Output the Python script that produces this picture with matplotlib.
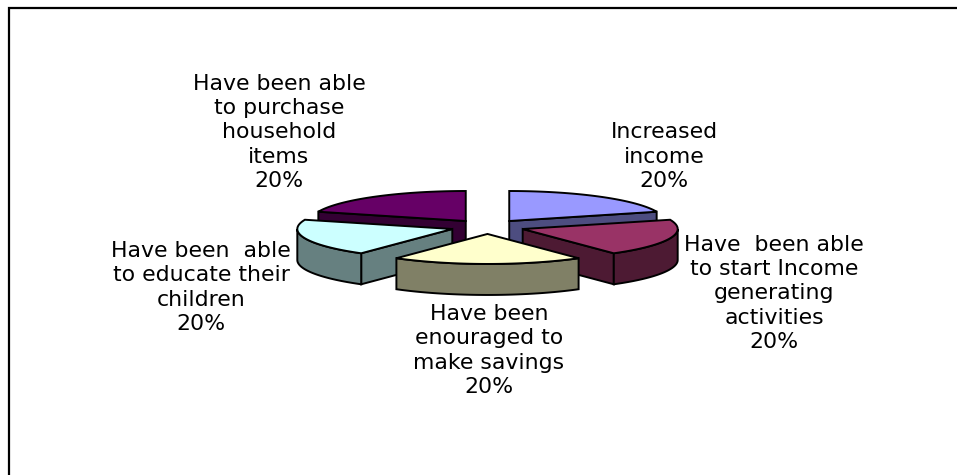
import numpy as np
import matplotlib
matplotlib.use('Agg')
import matplotlib.pyplot as plt
from matplotlib.patches import Polygon

plt.rcParams['font.family'] = ['DejaVu Sans']

# one entry per slice, clockwise from 12 o'clock
labels = [
    'Increased\nincome',
    'Have  been able\nto start Income\ngenerating\nactivities',
    'Have been\nenouraged to\nmake savings',
    'Have been  able\nto educate their\nchildren',
    'Have been able\nto purchase\nhousehold\nitems',
]
values = [20, 20, 20, 20, 20]
top_colors = ['#9999FF', '#993366', '#FFFFCC', '#CCFFFF', '#660066']
side_colors = ['#4D4D80', '#4D1A33', '#808066', '#668080', '#330033']
# label centre x, baseline of the last line
label_pos = [(664, 187), (774, 348), (489, 393), (201, 330), (279, 187)]

# pie geometry in pixels
W, H = 957, 475
cx, cy = 487.5, 226.8
rx, ry = 155, 30
explode = 37
depth = 31


def rim(start, end, x0, y0):
    # points along the outer edge, angle in degrees clockwise from north
    a = np.radians(np.linspace(start, end, 60))
    return np.column_stack([x0 + rx * np.sin(a), y0 - ry * np.cos(a)])


fig = plt.figure(figsize=(W / 100, H / 100), dpi=100)
ax = fig.add_axes([0, 0, 1, 1])
ax.set_xlim(0, W)
ax.set_ylim(H, 0)
ax.axis('off')

# outer frame, only top and left are in view
ax.plot([9, 9, W], [H, 8, 8], color='black', lw=1.6, solid_joinstyle='miter')

fracs = np.array(values) / sum(values)
stops = np.concatenate([[0], np.cumsum(fracs) * 360])
slices = []
for i in range(len(values)):
    start, end = stops[i], stops[i + 1]
    mid = np.radians((start + end) / 2)
    x0 = cx + explode * np.sin(mid)
    y0 = cy - explode * ry / rx * np.cos(mid)
    slices.append((i, start, end, x0, y0))

# paint from the back of the pie to the front
slices.sort(key=lambda s: s[4])
for i, start, end, x0, y0 in slices:
    walls = []
    for ang, turn in ((start, -90), (end, 90)):
        if np.cos(np.radians(ang + turn)) < -1e-6:
            p = rim(ang, ang, x0, y0)[0]
            walls.append([(x0, y0), p, (p[0], p[1] + depth), (x0, y0 + depth)])
    lo, hi = max(start, 90), min(end, 270)
    if hi > lo:
        r = rim(lo, hi, x0, y0)
        walls.append(np.vstack([r, (r + [0, depth])[::-1]]))
    for w in walls:
        ax.add_patch(Polygon(w, closed=True, fc=side_colors[i], ec='black', lw=1.4))
    top = np.vstack([[(x0, y0)], rim(start, end, x0, y0)])
    ax.add_patch(Polygon(top, closed=True, fc=top_colors[i], ec='black', lw=1.4))

for i, (x, y) in enumerate(label_pos):
    ax.text(x, y, '%s\n%d%%' % (labels[i], values[i]), ha='center', va='baseline',
            fontsize=15.8, linespacing=1.27, color='black')

fig.savefig('out.png', dpi=100)
